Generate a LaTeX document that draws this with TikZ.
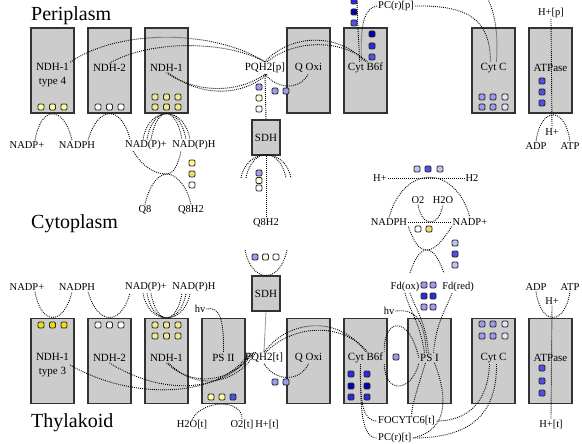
\documentclass[tikz,border=0pt]{standalone}
\usepackage{fontspec}
\setmainfont{Liberation Serif}
\definecolor{dkb}{HTML}{0000AA}
\definecolor{mb}{HTML}{2A2ADE}
\definecolor{mbb}{HTML}{5050E6}
\definecolor{lb}{HTML}{9C9CEE}
\definecolor{llb}{HTML}{C4C4F4}
\definecolor{vlb}{HTML}{E2E2FF}
\definecolor{yl}{HTML}{F0DC10}
\definecolor{ylm}{HTML}{EEDD66}
\definecolor{pyl}{HTML}{FFFF99}
\definecolor{kyl}{HTML}{F5E68C}
\definecolor{cr}{HTML}{FFFFE6}
\definecolor{boxg}{HTML}{CCCCCC}
\begin{document}
\begin{tikzpicture}[x=1pt,y=-1pt,
  box/.style={draw=black!80, line width=1.1pt, fill=boxg, minimum width=43pt, minimum height=85pt, inner sep=0pt},
  sbox/.style={draw=black!80, line width=1.1pt, fill=boxg, minimum width=28pt, minimum height=35pt, inner sep=0pt, font=\fontsize{11}{13}\selectfont},
  blab/.style={font=\fontsize{11}{13.5}\selectfont, inner sep=1pt, align=center},
  lab/.style={font=\fontsize{10.5}{12}\selectfont, inner sep=1pt},
  big/.style={font=\fontsize{20}{22}\selectfont, inner sep=0pt, anchor=west},
  sq/.style={draw=black!85, line width=0.8pt, rounded corners=1.2pt, minimum size=6pt, inner sep=0pt},
  con/.style={line width=0.9pt, dash pattern=on 0.9pt off 1.1pt},
]
\useasboundingbox (0,0) rectangle (582,444);
\fill[white] (0,0) rectangle (582,444);

% region titles
\node[big] (peri) at (31,16) {Periplasm};
\node[big] (cyto) at (31,224) {Cytoplasm};
\node[big] (thyl) at (31,423) {Thylakoid};

% boxes
\foreach \n/\x in {bA1/52.5,bA2/109.5,bA3/166.5,bA4/308.5,bA5/365.5,bA6/493.5,bA7/550.5}
  \node[box] (\n) at (\x,70.5) {};
\foreach \n/\x in {bB1/52.5,bB2/109.5,bB3/166.5,bB4/223.5,bB5/308.5,bB6/365.5,bB7/429.5,bB8/493.5,bB9/550.5}
  \node[box] (\n) at (\x,361) {};
\node[sbox] (sdhA) at (266,137.5) {SDH};
\node[sbox] (sdhB) at (266,293.5) {SDH};

% box labels top
\node[blab] (A1) at (52.5,75) {NDH-1\\type 4};
\node[blab] (A2) at (109.5,68) {NDH-2};
\node[blab] (A3) at (166.5,68) {NDH-1};
\node[blab] (A4) at (308.5,68) {Q Oxi};
\node[blab] (A5) at (365.5,68) {Cyt B6f};
\node[blab] (A6) at (493.5,68) {Cyt C};
\node[blab] (A7) at (550.5,68) {ATPase};
\node[blab] (PQp) at (265,68) {PQH2[p]};
% box labels bottom
\node[blab] (B1) at (52.5,365) {NDH-1\\type 3};
\node[blab] (B2) at (109.5,358) {NDH-2};
\node[blab] (B3) at (166.5,358) {NDH-1};
\node[blab] (PS2) at (223.5,358) {PS II};
\node[blab] (QB) at (308.5,358) {Q Oxi};
\node[blab] (B6) at (365.5,358) {Cyt B6f};
\node[blab] (PS1) at (429.5,358) {PS I};
\node[blab] (CC) at (493.5,358) {Cyt C};
\node[blab] (ATb) at (550.5,358) {ATPase};
\node[blab] (PQt) at (264,358) {PQH2[t]};

% small labels top
\node[lab] (PCp) at (396,6) {PC(r)[p]};
\node[lab] (Hpp) at (551,13) {H+[p]};
\node[lab] (NADPc) at (27,145) {NADP+};
\node[lab] (NADPHc) at (77,145) {NADPH};
\node[lab] (NADPpc) at (146,145) {NAD(P)+};
\node[lab] (NADPHhc) at (194,145) {NAD(P)H};
\node[lab] (Hc) at (552,132) {H+};
\node[lab] (ADPc) at (536,146) {ADP};
\node[lab] (ATPc) at (570,146) {ATP};
\node[lab] (Q8) at (145,210) {Q8};
\node[lab] (Q8H2a) at (191,210) {Q8H2};
\node[lab] (Q8H2b) at (266,223) {Q8H2};
% middle
\node[lab] (Hm) at (380,178) {H+};
\node[lab] (H2m) at (472,178) {H2};
\node[lab] (O2m) at (418,200) {O2};
\node[lab] (H2Om) at (443,200) {H2O};
\node[lab] (NADPHm) at (389,222) {NADPH};
\node[lab] (NADPm) at (470,222) {NADP+};
% small labels bottom
\node[lab] (NADPb) at (27,287) {NADP+};
\node[lab] (NADPHb) at (77,287) {NADPH};
\node[lab] (NADPpb) at (146,287) {NAD(P)+};
\node[lab] (NADPHhb) at (194,287) {NAD(P)H};
\node[lab] (Fdox) at (405,287) {Fd(ox)};
\node[lab] (Fdred) at (458,287) {Fd(red)};
\node[lab] (ADPb) at (536,287) {ADP};
\node[lab] (ATPb) at (570,287) {ATP};
\node[lab] (Hb) at (552,301) {H+};
\node[lab] (hv1) at (200,309) {hv};
\node[lab] (hv2) at (389,311) {hv};
\node[lab] (H2Ot) at (192,425) {H2O[t]};
\node[lab] (O2t) at (242,425) {O2[t]};
\node[lab] (Ht) at (267,425) {H+[t]};
\node[lab] (Htb) at (551,425) {H+[t]};
\node[lab, anchor=west] (FOC) at (377,421) {FOCYTC6[t]};
\node[lab, anchor=west] (PCt) at (377,438) {PC(r)[t]};

% free ends
\coordinate (topL) at (357,-3);
\coordinate (topR) at (487,-3);
\coordinate (sdhAL1) at (241,178);
\coordinate (sdhAR1) at (291,178);
\coordinate (sdhAL2) at (246,178);
\coordinate (sdhAR2) at (286,178);
\coordinate (sdhBL) at (245,250);
\coordinate (sdhBR) at (287,250);
\coordinate (xq) at (167,174);
\coordinate (xm) at (427,250);

% ---------- top connectors
\draw[con] (A1.north east) .. controls (120,28) and (215,30) .. (PQp.north);
\draw[con] (A2.north) .. controls (150,40) and (225,40) .. (PQp.north);
\draw[con] (A3.south) .. controls (200,95) and (240,92) .. (PQp.south);
\draw[con] ([xshift=2pt]A3.south) .. controls (203,99) and (244,95) .. ([xshift=2pt]PQp.south);
\draw[con] (PQp.north) .. controls (290,34) and (338,32) .. (A5.north);
\draw[con] ([xshift=2pt]PQp.north) .. controls (294,40) and (340,38) .. ([xshift=2pt]A5.north);
\draw[con] (PQp.south) .. controls (278,90) and (300,90) .. (A4.south);
\draw[con] (PQp.south) -- (sdhA.north);
\draw[con] (topL) .. controls (357,20) and (359,40) .. ([xshift=-6pt]A5.north);
\draw[con] (PCp.west) .. controls (364,8) and (360,25) .. ([xshift=-4pt]A5.north);
\draw[con] (PCp.east) .. controls (472,5) and (490,22) .. ([xshift=-3pt]A6.north);
\draw[con] (topR) .. controls (496,15) and (498,35) .. ([xshift=3pt]A6.north);
\draw[con] (Hpp.south) -- (Hc.north);
\draw[con] (ADPc.north) .. controls (541,106) and (565,106) .. (ATPc.north);
\draw[con] ([xshift=8pt]NADPc.north) .. controls (41,105) and (64,105) .. ([xshift=-5pt]NADPHc.north);
\draw[con] ([xshift=11pt]NADPHc.north) .. controls (98,105) and (121,105) .. ([xshift=-16pt]NADPpc.north);
\foreach \l/\r in {143/190,147/186,151/182}
  \draw[con] (\l,139.5) .. controls (\l+6,105) and (\r-6,105) .. (\r,139.5);
% SDH (top) and Q8
\draw[con] (sdhAL1) .. controls (247,147) and (285,147) .. (sdhAR1);
\draw[con] (sdhAL2) .. controls (252,147) and (280,147) .. (sdhAR2);
\draw[con] (sdhA.south) -- (Q8H2b.north);
\draw[con] ([xshift=-13pt]NADPpc.south) .. controls (145,170) and (157,174) .. (xq) .. controls (173,174) and (178,166) .. ([xshift=-13pt]NADPHhc.south);
\draw[con] (Q8.north) .. controls (150,182) and (160,174) .. (xq) .. controls (175,174) and (187,185) .. (Q8H2a.north);
% middle
\draw[con] (Hm.east) -- (H2m.west);
\draw[con] (NADPHm.north) .. controls (404,164) and (455,164) .. (NADPm.north);
\draw[con] (O2m.south) .. controls (420,216) and (425,222) .. (430.5,222) .. controls (436,222) and (441,216) .. (H2Om.south);
\draw[con] (NADPHm.east) -- (NADPm.west);
\draw[con] (NADPHm.south east) .. controls (415,245) and (420,250) .. (xm) .. controls (434,250) and (442,242) .. (NADPm.south west);
\draw[con] ([xshift=5pt,yshift=8pt]Fdox.north) .. controls (415,258) and (420,250) .. (xm) .. controls (434,250) and (439,260) .. ([xshift=-14pt,yshift=8pt]Fdred.north);

% ---------- bottom connectors
\draw[con] ([xshift=8pt]NADPb.south) .. controls (41,326) and (64,326) .. ([xshift=-5pt]NADPHb.south);
\draw[con] ([xshift=11pt]NADPHb.south) .. controls (98,326) and (121,326) .. ([xshift=-16pt]NADPpb.south);
\foreach \l/\r in {143/190,147/186,151/182}
  \draw[con] (\l,293.5) .. controls (\l+6,326) and (\r-6,326) .. (\r,293.5);
\draw[con] (ADPb.south) .. controls (541,326) and (565,326) .. (ATPb.south);
\draw[con] (Hb.south) -- (Htb.north);
\draw[con] (sdhBL) .. controls (252,284) and (280,284) .. (sdhBR);
\draw[con] (sdhB.south) -- (PQt.north);
\draw[con] (B1.east) .. controls (130,400) and (220,400) .. ([xshift=6pt]PQt.north west);
\draw[con] (B2.south) .. controls (160,395) and (225,395) .. ([xshift=8pt]PQt.north west);
\draw[con] (B3.south) .. controls (195,390) and (235,380) .. ([xshift=10pt]PQt.north west);
\draw[con] ([xshift=2pt]B3.south) .. controls (198,393) and (238,383) .. ([xshift=12pt]PQt.north west);
\draw[con] (PQt.north) .. controls (290,318) and (340,316) .. (B6.north);
\draw[con] ([xshift=2pt]PQt.north) .. controls (294,324) and (342,322) .. ([xshift=2pt]B6.north);
\draw[con] (PQt.south) .. controls (276,382) and (300,382) .. (QB.south);
\draw[con] (hv1.east) .. controls (220,306) and (224,320) .. (PS2.north);
\draw[con] (H2Ot.north) .. controls (203,399) and (243,399) .. (O2t.north);
% PS I
\draw[con] (Fdox.south) .. controls (410,312) and (420,322) .. ([xshift=-5pt]PS1.north);
\draw[con] ([xshift=5pt]Fdox.south) .. controls (416,310) and (426,322) .. ([xshift=-1pt]PS1.north);
\draw[con] ([xshift=-6pt]Fdred.south) .. controls (446,310) and (436,322) .. ([xshift=4pt]PS1.north);
\draw[con] (hv2.east) .. controls (415,309) and (424,318) .. ([xshift=-3pt]PS1.north);
\draw[con] (B6.north east) .. controls (383,320) and (408,312) .. (PS1.west);
\draw[con] (B6.south east) .. controls (385,395) and (412,392) .. (PS1.south west);
\draw[con] ([xshift=-4pt]PS1.south) .. controls (417,390) and (412,405) .. ([xshift=5pt]FOC.north);
\draw[con] ([xshift=5pt]PS1.south) .. controls (447,395) and (450,430) .. (PCt.east);
\draw[con] ([xshift=-4pt]CC.south) .. controls (488,400) and (470,421) .. (FOC.east);
\draw[con] ([xshift=3pt]CC.south) .. controls (497,415) and (470,438) .. (PCt.east);
\draw[con] ([xshift=-5pt]B6.south) .. controls (360,400) and (362,421) .. (FOC.west);
\draw[con] ([xshift=-5pt]B6.south) .. controls (360,410) and (362,438) .. (PCt.west);

% ---------- squares
\foreach \x/\y/\c [count=\i] in {
  41/107/pyl, 52.5/107/pyl, 64/107/pyl,
  98/107/white, 109.5/107/white, 121/107/white,
  155/97/kyl, 166.5/97/kyl, 178/97/kyl, 155/107/kyl, 166.5/107/kyl, 178/107/kyl,
  259/87/lb, 259/98/cr, 259/109/white,
  275/91/lb, 286/91/lb,
  372/34/dkb, 372/46/mb, 372/57/mbb,
  354/1/mb, 354/12/dkb, 354/23/mbb,
  482/97/lb, 493/97/lb, 505/97/vlb, 482/107/lb, 493/107/lb, 505/107/vlb,
  542/81/mbb, 542/92/mbb, 542/103/mbb,
  259/173/lb, 259/180.5/cr, 259/188/white,
  192/163/pyl, 192/174/ylm, 192/185/white}
  \node[sq, fill=\c] (sqa\i) at (\x,\y) {};
\foreach \x/\y/\c [count=\i] in {
  417/169/llb, 428/169/mbb, 440/169/llb,
  418/229/white, 429/229/ylm,
  455/243/llb, 455/254/mbb, 455/265/llb,
  424/285/lb, 433/285/lb, 424/296/mb, 433/296/mb, 424/307/lb, 433/307/lb}
  \node[sq, fill=\c] (sqm\i) at (\x,\y) {};
\foreach \x/\y/\c [count=\i] in {
  255/257/lb, 265.5/257/cr, 276/257/white,
  41/325/yl, 52.5/325/yl, 64/325/yl,
  98/325/white, 109.5/325/white, 121/325/white,
  155/325/kyl, 166.5/325/kyl, 178/325/kyl, 155/336/kyl, 166.5/336/kyl, 178/336/kyl,
  211/397/pyl, 222/397/pyl, 233/397/mbb,
  275/382/lb, 286/382/lb,
  351/374/mb, 367/374/mb, 351/386/dkb, 367/386/dkb, 351/397/mb, 367/397/mb,
  396/357/lb,
  482/324/lb, 493/324/lb, 505/324/vlb, 482/336/lb, 493/336/lb, 505/336/vlb,
  542/368/mbb, 542/381/mbb, 542/393/mbb}
  \node[sq, fill=\c] (sqb\i) at (\x,\y) {};
\end{tikzpicture}
\end{document}
